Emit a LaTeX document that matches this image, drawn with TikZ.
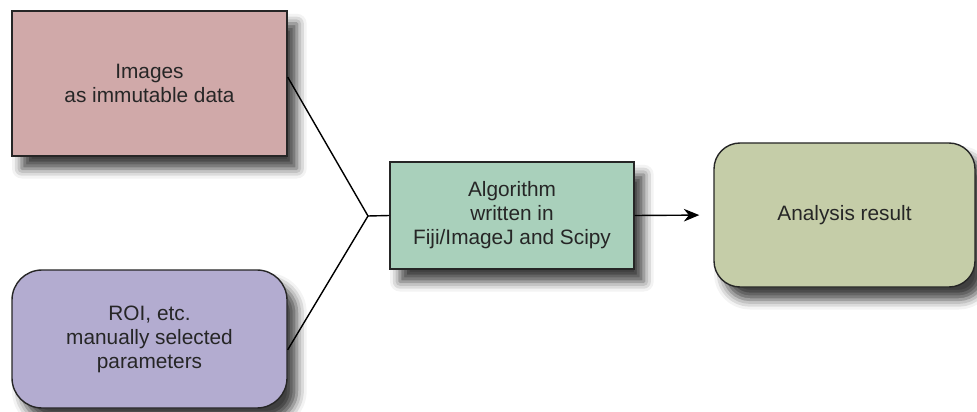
\documentclass[tikz,border=0pt]{standalone}
\usepackage{fontspec}
\setmainfont{Liberation Sans}
\usetikzlibrary{arrows.meta,shadows.blur}

\definecolor{imgfill}{HTML}{D0A9A9}
\definecolor{roifill}{HTML}{B3ACD0}
\definecolor{algfill}{HTML}{A9D0BB}
\definecolor{resfill}{HTML}{C5CDA8}

\begin{document}
\begin{tikzpicture}[x=0.025cm,y=-0.025cm]
\tikzstyle{every node}+=[inner sep=0pt,align=center,text=black!85,font=\fontsize{14.8}{17}\selectfont]
\tikzstyle{box}=[draw=black!85,line width=1pt,blur shadow={shadow xshift=7pt,shadow yshift=-9pt,shadow blur radius=7pt,shadow opacity=75}]
\useasboundingbox (0,0) rectangle (977,412);
\node [box,fill=imgfill,minimum width=275*0.025cm,minimum height=145*0.025cm] (img) at (149.5,83.5) {Images\\as immutable data};
\node [box,fill=roifill,rounded corners=0.75cm,minimum width=275*0.025cm,minimum height=138*0.025cm] (roi) at (149.5,339) {ROI, etc.\\manually selected\\parameters};
\node [box,fill=algfill,minimum width=244*0.025cm,minimum height=107*0.025cm] (algo) at (512,215.5) {Algorithm\\written in\\Fiji/ImageJ and Scipy};
\node [box,fill=resfill,rounded corners=0.65cm,minimum width=261*0.025cm,minimum height=144*0.025cm] (res) at (844.5,215) {Analysis result};
\coordinate (join) at (368,216);
\draw [black,line width=1pt] ([yshift=0.16cm]img.east) -- (join) -- ([yshift=-0.27cm]roi.east);
\draw [black,line width=1pt] (join) -- (algo.west);
\draw [black,line width=1pt,-{Stealth[length=11pt,width=9pt]},shorten >=14*0.025cm] (algo.east) -- (res.west);
\end{tikzpicture}
\end{document}
